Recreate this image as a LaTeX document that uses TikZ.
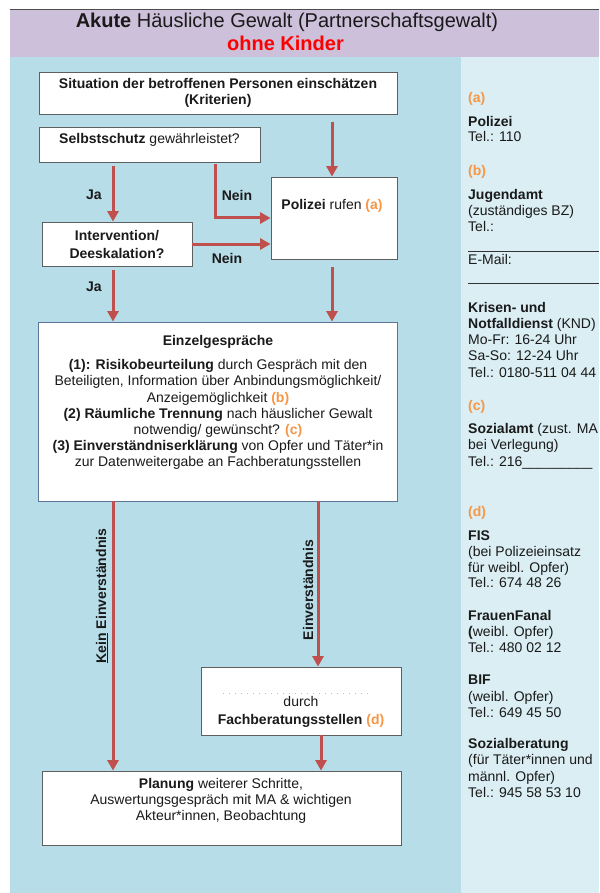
\documentclass[tikz,border=0pt]{standalone}
\usepackage{fontspec}
\setmainfont{Liberation Sans}
\usetikzlibrary{arrows.meta,calc}
\definecolor{hdr}{HTML}{CCC0DA}
\definecolor{mainbg}{HTML}{B7DDE8}
\definecolor{sidebg}{HTML}{DAEEF3}
\definecolor{arrred}{HTML}{C0504D}
\definecolor{orng}{HTML}{F79646}
\definecolor{txt}{HTML}{1A1A1A}
\definecolor{boxline}{HTML}{5F5F5F}
\definecolor{einzline}{HTML}{5A7396}
\definecolor{titlered}{HTML}{FF0000}
\newcommand\fs{\fontsize{14pt}{16.1pt}\selectfont}
\newcommand\orn[1]{\textcolor{orng}{\bfseries #1}}
\newcommand\rt[3]{\node[rtext] (#1) at (468,{#2+4.5}) {#3};}
\tikzset{
  box/.style={draw=boxline, fill=white, line width=0.8pt, inner sep=0pt},
  txtnode/.style={font=\fs, text=txt, inner sep=0pt, align=center},
  rtext/.style={font=\fs, text=txt, inner sep=0pt, anchor=base west},
  lbl/.style={font=\fs\bfseries, text=txt, inner sep=0pt},
  arr/.style={draw=arrred, line width=3pt, -{Triangle[width=11pt,length=10.5pt]}},
  rule/.style={draw=gray!40!black, line width=0.8pt}
}
\begin{document}
\begin{tikzpicture}[x=1pt,y=-1pt]
\useasboundingbox (0,0) rectangle (599,893);
\fill[white] (0,0) rectangle (599,893);
% backgrounds
\fill[hdr] (10,9) rectangle (599,57);
\draw[gray!60!black, line width=0.8pt] (10,9) -- (599,9);
\fill[mainbg] (10,57) rectangle (461,893);
\fill[sidebg] (461,57) rectangle (599,893);
% header
\node[font=\fontsize{20pt}{22pt}\selectfont, text=txt, anchor=base, inner sep=0pt] (title) at (287,27.5) {{\bfseries Akute} Häusliche Gewalt (Partnerschaftsgewalt)};
\node[font=\fontsize{20pt}{22pt}\selectfont\bfseries, text=titlered, anchor=base, inner sep=0pt] (subtitle) at (285.5,51) {ohne Kinder};
% boxes
\node[box, minimum width=358pt, minimum height=42pt, txtnode, font=\fs\bfseries] (sit) at (218,93) {Situation der betroffenen Personen einschätzen\\(Kriterien)};
\node[box, minimum width=221pt, minimum height=35pt] (self) at (149.5,144.5) {};
\node[txtnode] (selft) at (149.5,140) {{\bfseries Selbstschutz} gewährleistet?};
\node[box, minimum width=126pt, minimum height=82pt] (pol) at (334,218) {};
\node[txtnode] (polt) at (332,206) {{\bfseries Polizei} rufen \orn{(a)}};
\node[box, minimum width=150pt, minimum height=44pt, txtnode, font=\fontsize{14pt}{18pt}\selectfont\bfseries] (int) at (117,244) {Intervention/\\Deeskalation?};
\node[box, draw=einzline, minimum width=359pt, minimum height=179pt] (einz) at (217.5,411.5) {};
\node[txtnode, font=\fs\bfseries] (einzt) at (218,342) {Einzelgespräche};
\node[txtnode] (einzb) at (218,414.5) {{\bfseries (1): Risikobeurteilung} durch Gespräch mit den\\
Beteiligten, Information über Anbindungsmöglichkeit/\\
Anzeigemöglichkeit \orn{(b)}\\
{\bfseries (2) Räumliche Trennung} nach häuslicher Gewalt\\
notwendig/ gewünscht? \orn{(c)}\\
{\bfseries (3) Einverständniserklärung} von Opfer und Täter*in\\
zur Datenweitergabe an Fachberatungsstellen};
\node[box, minimum width=200pt, minimum height=68pt] (fach) at (301,701) {};
\draw[gray!55, line width=1pt, dash pattern=on 1pt off 5pt] (223,693) -- (373,693);
\node[txtnode, font=\fontsize{14pt}{18pt}\selectfont] (facht) at (301,712) {durch\\{\bfseries Fachberatungsstellen} \orn{(d)}};
\node[box, minimum width=359pt, minimum height=74pt] (plan) at (221.5,808) {};
\node[txtnode] (plant) at (221,801) {{\bfseries Planung} weiterer Schritte,\\Auswertungsgespräch mit MA \& wichtigen\\Akteur*innen, Beobachtung};
% columns
\coordinate (cL) at (113,0);
\coordinate (cR) at (332,0);
\coordinate (cN) at (215,0);
\coordinate (cE) at (318,0);
\coordinate (cF) at (321,0);
% arrows
\draw[arr, shorten <=8pt] (cR |- sit.south) -- (cR |- pol.north);
\draw[arr, shorten <=4pt] (cL |- self.south) -- (cL |- int.north);
\draw[arr, shorten <=2pt] (cN |- self.south) |- (pol.west);
\draw[arr] (int.east) -- (int.east -| pol.west);
\draw[arr, shorten <=4pt] (cL |- int.south) -- (cL |- einz.north);
\draw[arr, shorten <=8pt] (cR |- pol.south) -- (cR |- einz.north);
\draw[arr] (cL |- einz.south) -- (cL |- plan.north);
\draw[arr] (cE |- einz.south) -- (cE |- fach.north);
\draw[arr] (cF |- fach.south) -- (cF |- plan.north);
% labels
\node[lbl] (ja1) at (94,195) {Ja};
\node[lbl] (nein1) at (237,195) {Nein};
\node[lbl] (nein2) at (227,258) {Nein};
\node[lbl] (ja2) at (94,287) {Ja};
\node[lbl, rotate=90] (kein) at (102,596) {\underline{Kein} Einverständnis};
\node[lbl, rotate=90] (einv) at (308,590) {Einverständnis};
% right panel
\rt{r1}{98}{\orn{(a)}}
\rt{r2}{122}{\bfseries Polizei}
\rt{r3}{137}{Tel.: 110}
\rt{r4}{171}{\orn{(b)}}
\rt{r5}{195}{\bfseries Jugendamt}
\rt{r6}{211}{(zuständiges BZ)}
\rt{r7}{227}{Tel.:}
\draw[rule] (468,251) -- (599,251);
\rt{r8}{260}{E-Mail:}
\draw[rule] (468,283) -- (599,283);
\rt{r9}{308}{\bfseries Krisen- und}
\rt{r10}{324}{{\bfseries Notfalldienst} (KND)}
\rt{r11}{340}{Mo-Fr: 16-24 Uhr}
\rt{r12}{356}{Sa-So: 12-24 Uhr}
\rt{r13}{373}{Tel.: 0180-511 04 44}
\rt{r14}{406}{\orn{(c)}}
\rt{r15}{429}{{\bfseries Sozialamt} (zust. MA}
\rt{r16}{445}{bei Verlegung)}
\rt{r17}{462}{Tel.: 216\_\_\_\_\_\_\_\_\_}
\rt{r18}{512}{\orn{(d)}}
\rt{r19}{536}{\bfseries FIS}
\rt{r20}{552}{(bei Polizeieinsatz}
\rt{r21}{568}{für weibl. Opfer)}
\rt{r22}{583}{Tel.: 674 48 26}
\rt{r23}{616}{\bfseries FrauenFanal}
\rt{r24}{632}{{\bfseries (}weibl. Opfer)}
\rt{r25}{648}{Tel.: 480 02 12}
\rt{r26}{680}{\bfseries BIF}
\rt{r27}{697}{(weibl. Opfer)}
\rt{r28}{713}{Tel.: 649 45 50}
\rt{r29}{744}{\bfseries Sozialberatung}
\rt{r30}{760}{(für Täter*innen und}
\rt{r31}{777}{männl. Opfer)}
\rt{r32}{793}{Tel.: 945 58 53 10}
\end{tikzpicture}
\end{document}
